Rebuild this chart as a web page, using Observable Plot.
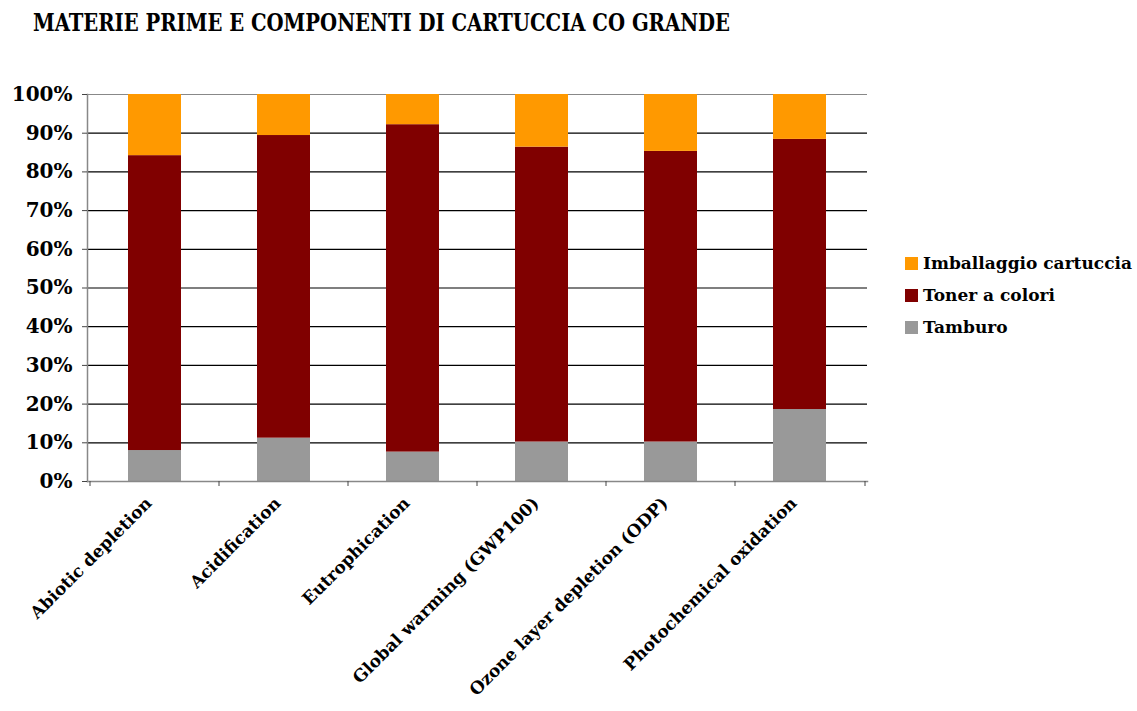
<!DOCTYPE html>
<html>
<head>
<meta charset="utf-8">
<script src="https://cdn.jsdelivr.net/npm/d3@7"></script>
<script src="https://cdn.jsdelivr.net/npm/@observablehq/plot@0.6"></script>
<style>
  html, body { margin: 0; padding: 0; background: #fff; }
  #wrap { position: relative; width: 1137px; height: 711px; overflow: hidden; }
  #title { position: absolute; left: 33px; top: 8px; font-family: "DejaVu Serif Condensed", "DejaVu Serif", serif; font-stretch: condensed; font-weight: bold; font-size: 24px; white-space: nowrap; transform-origin: 0 0; color: #000; }
  #legend { position: absolute; left: 905px; top: 247px; font-family: "DejaVu Serif", serif; font-weight: bold; font-size: 17px; color: #000; }
  .item { display: flex; align-items: center; height: 32px; }
  .sw { width: 13px; height: 13px; margin-right: 5px; }
  #chart { position: absolute; left: 0; top: 0; }
</style>
</head>
<body>
<div id="wrap">
  <div id="chart"></div>
  <div id="title">MATERIE PRIME E COMPONENTI DI CARTUCCIA CO GRANDE</div>
  <div id="legend"></div>
</div>
<script>
const categories = ["Abiotic depletion", "Acidification", "Eutrophication", "Global warming (GWP100)", "Ozone layer depletion (ODP)", "Photochemical oxidation"];
const tamburo = [8.0, 11.2, 7.6, 10.2, 10.2, 18.6];
const toner = [76.2, 78.2, 84.6, 76.2, 75.1, 69.8];
const imballaggio = [15.8, 10.6, 7.8, 13.6, 14.7, 11.6];
const seriesNames = ["Tamburo", "Toner a colori", "Imballaggio cartuccia"];
const seriesColors = ["#999999", "#800000", "#FF9900"];
const legendOrder = ["Imballaggio cartuccia", "Toner a colori", "Tamburo"];
const yTicks = [0, 10, 20, 30, 40, 50, 60, 70, 80, 90, 100];

const seriesValues = [tamburo, toner, imballaggio];
const data = [];
categories.forEach((c, i) => {
  seriesNames.forEach((s, j) => data.push({category: c, series: s, value: seriesValues[j][i]}));
});

const W = 1137, H = 711, mL = 87, mR = 270, mT = 94, mB = 230;
const step = (W - mL - mR) / categories.length;

const plot = Plot.plot({
  width: W, height: H,
  marginLeft: mL, marginRight: mR, marginTop: mT, marginBottom: mB,
  style: {fontFamily: "DejaVu Serif, serif", fontWeight: "bold", fontSize: "18px", color: "#000", background: "transparent", overflow: "visible"},
  x: {domain: categories, paddingInner: 0.59, paddingOuter: 0.31, axis: null},
  y: {domain: [0, 100], axis: null},
  color: {domain: seriesNames, range: seriesColors},
  marks: [
    Plot.ruleY(yTicks.filter(d => d > 0 && d < 100), {stroke: "#000", strokeWidth: 1.2}),
    Plot.ruleY([100], {stroke: "#888", strokeWidth: 1.2}),
    Plot.barY(data, {x: "category", y: "value", fill: "series", order: seriesNames}),
    Plot.frame({anchor: "left", stroke: "#888", strokeWidth: 1.5}),
    Plot.frame({anchor: "bottom", stroke: "#888", strokeWidth: 1.5}),
    Plot.axisY({ticks: yTicks, tickSize: 5, tickPadding: 10, label: null, tickFormat: d => d + "%", stroke: "#444", fontSize: 20, fontWeight: "bold"}),
    Plot.axisX({ticks: categories, tickSize: 5, label: null, tickFormat: () => "", dx: -step / 2, stroke: "#444"}),
    Plot.axisX({ticks: categories.slice(-1), tickSize: 5, label: null, tickFormat: () => "", dx: step / 2, stroke: "#444"}),
    Plot.axisX({ticks: categories, tickSize: 0, label: null, tickRotate: -45, tickPadding: 19, dx: -6, fontSize: 17, fontWeight: "bold"})
  ]
});
document.getElementById("chart").appendChild(plot);

const legend = document.getElementById("legend");
legendOrder.forEach(name => {
  const it = document.createElement("div");
  it.className = "item";
  const sw = document.createElement("div");
  sw.className = "sw";
  sw.style.background = seriesColors[seriesNames.indexOf(name)];
  const t = document.createElement("span");
  t.textContent = name;
  it.appendChild(sw); it.appendChild(t);
  legend.appendChild(it);
});

const title = document.getElementById("title");
const tw = title.getBoundingClientRect().width;
title.style.transform = `scaleX(${697 / tw})`;
</script>
</body>
</html>
